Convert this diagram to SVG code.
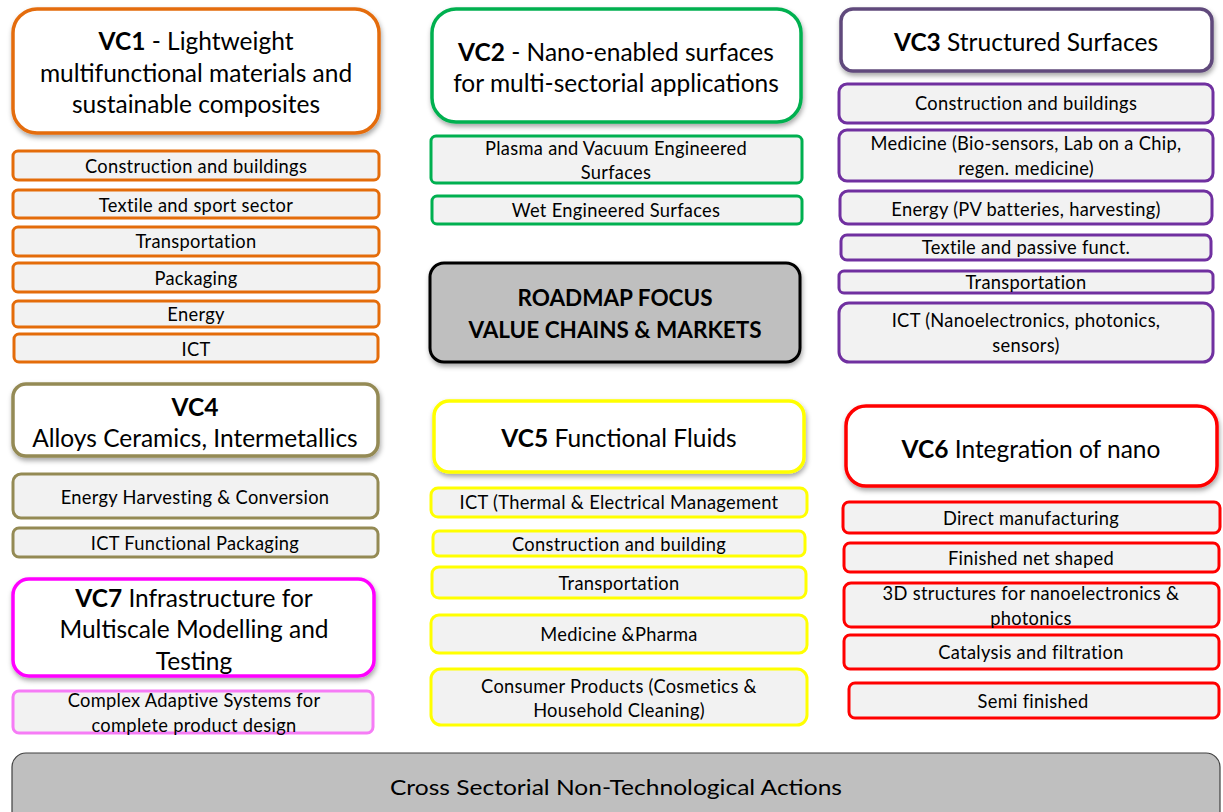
<svg xmlns="http://www.w3.org/2000/svg" width="1223" height="812" viewBox="0 0 1223 812">
<defs>
<filter id="sh" x="-10%" y="-10%" width="120%" height="130%">
<feDropShadow dx="1" dy="3" stdDeviation="2.5" flood-color="#000" flood-opacity="0.35"/>
</filter>
<style>
text{font-family:Lato,"Open Sans","Liberation Sans",sans-serif;fill:#000;text-anchor:middle;dominant-baseline:central}
.h{font-size:24.5px}
.bold{font-weight:bold}
.i{font-size:18.3px;letter-spacing:0.3px}
.hd{fill:#fff;stroke-width:3.5}
.it{fill:#F2F2F2;stroke-width:3}
.o{stroke:#E46C0A}.g{stroke:#00B050}.p3{stroke:#604A7B}.p{stroke:#7030A0}
.ol{stroke:#948A54}.m{stroke:#FF00FF}.lm{stroke:#F67CF6}.y{stroke:#FFFF00}.r{stroke:#FF0000}
</style>
</defs>
<rect width="1223" height="812" fill="#fff"/>
<g id="connectors"/>

<g id="vc1">
<rect class="hd o" x="13" y="9" width="366" height="124" rx="24" filter="url(#sh)"/>
<text class="h" x="196" y="40"><tspan font-weight="bold">VC1</tspan> - Lightweight</text>
<text class="h" x="196" y="72">multifunctional materials and</text>
<text class="h" x="196" y="103">sustainable composites</text>
</g>
<g id="vc1-items">
<rect class="it o" x="13" y="151" width="366" height="29" rx="5"/><text class="i" x="196" y="166">Construction and buildings</text>
<rect class="it o" x="13" y="190" width="366" height="28" rx="5"/><text class="i" x="196" y="205">Textile and sport sector</text>
<rect class="it o" x="13" y="227" width="366" height="29" rx="5"/><text class="i" x="196" y="241">Transportation</text>
<rect class="it o" x="13" y="263" width="366" height="29" rx="5"/><text class="i" x="196" y="278">Packaging</text>
<rect class="it o" x="13" y="301" width="366" height="26" rx="5"/><text class="i" x="196" y="314">Energy</text>
<rect class="it o" x="14" y="334" width="364" height="28" rx="5"/><text class="i" x="196" y="349">ICT</text>
</g>

<g id="vc2">
<rect class="hd g" x="432" y="9" width="369" height="113" rx="24" filter="url(#sh)"/>
<text class="h" x="616" y="51"><tspan font-weight="bold">VC2</tspan> - Nano-enabled surfaces</text>
<text class="h" x="616" y="82">for multi-sectorial applications</text>
</g>
<g id="vc2-items">
<rect class="it g" x="431" y="136" width="371" height="47" rx="5"/><text class="i" x="616" y="148">Plasma and Vacuum Engineered</text><text class="i" x="616" y="172">Surfaces</text>
<rect class="it g" x="432" y="196" width="370" height="28" rx="5"/><text class="i" x="616" y="210">Wet Engineered Surfaces</text>
</g>

<g id="vc3">
<rect class="hd p3" x="841" y="9" width="371" height="62" rx="12" filter="url(#sh)"/>
<text class="h" x="1026" y="41"><tspan font-weight="bold">VC3</tspan>  Structured Surfaces</text>
</g>
<g id="vc3-items">
<rect class="it p" x="839" y="84" width="374" height="39" rx="8"/><text class="i" x="1026" y="103">Construction and buildings</text>
<rect class="it p" x="839" y="130" width="374" height="51" rx="8"/><text class="i" x="1026" y="143">Medicine (Bio-sensors, Lab on a Chip,</text><text class="i" x="1026" y="168">regen. medicine)</text>
<rect class="it p" x="840" y="191" width="372" height="33" rx="8"/><text class="i" x="1026" y="209">Energy (PV batteries, harvesting)</text>
<rect class="it p" x="841" y="235" width="370" height="25" rx="6"/><text class="i" x="1026" y="247">Textile and passive funct.</text>
<rect class="it p" x="839" y="271" width="374" height="22" rx="5"/><text class="i" x="1026" y="282">Transportation</text>
<rect class="it p" x="839" y="303" width="374" height="59" rx="10"/><text class="i" x="1026" y="320">ICT (Nanoelectronics, photonics,</text><text class="i" x="1026" y="345">sensors)</text>
</g>

<g id="roadmap">
<rect x="430" y="263" width="370" height="99" rx="14" fill="#BFBFBF" stroke="#000" stroke-width="3" filter="url(#sh)"/>
<text class="bold" x="615" y="297" font-size="22.5">ROADMAP FOCUS</text>
<text class="bold" x="615" y="329" font-size="22.5">VALUE CHAINS &amp; MARKETS</text>
</g>

<g id="vc4">
<rect class="hd ol" x="13" y="384" width="365" height="72" rx="13" filter="url(#sh)"/>
<text class="h" x="195" y="406" font-weight="bold">VC4</text>
<text class="h" x="195" y="437">Alloys Ceramics, Intermetallics</text>
</g>
<g id="vc4-items">
<rect class="it ol" x="13" y="474" width="365" height="44" rx="8"/><text class="i" x="195" y="497">Energy Harvesting &amp; Conversion</text>
<rect class="it ol" x="13" y="528" width="365" height="29" rx="6"/><text class="i" x="195" y="543">ICT Functional Packaging</text>
</g>

<g id="vc7">
<rect class="hd m" x="13" y="579" width="361" height="97" rx="16" filter="url(#sh)"/>
<text class="h" x="194" y="597"><tspan font-weight="bold">VC7</tspan> Infrastructure for</text>
<text class="h" x="194" y="628">Multiscale Modelling and</text>
<text class="h" x="194" y="660">Testing</text>
</g>
<g id="vc7-items">
<rect class="it lm" x="13" y="691" width="360" height="42" rx="6"/><text class="i" x="194" y="700">Complex Adaptive Systems for</text><text class="i" x="194" y="725">complete product design</text>
</g>

<g id="vc5">
<rect class="hd y" x="434" y="401" width="370" height="71" rx="15" filter="url(#sh)"/>
<text class="h" x="619" y="437"><tspan font-weight="bold">VC5</tspan> Functional Fluids</text>
</g>
<g id="vc5-items">
<rect class="it y" x="431" y="488" width="376" height="29" rx="7"/><text class="i" x="619" y="502">ICT (Thermal &amp; Electrical Management</text>
<rect class="it y" x="433" y="531" width="372" height="25" rx="6"/><text class="i" x="619" y="544">Construction and building</text>
<rect class="it y" x="432" y="567" width="374" height="31" rx="7"/><text class="i" x="619" y="583">Transportation</text>
<rect class="it y" x="431" y="615" width="376" height="38" rx="8"/><text class="i" x="619" y="634">Medicine &amp;Pharma</text>
<rect class="it y" x="431" y="669" width="376" height="56" rx="10"/><text class="i" x="619" y="686">Consumer Products (Cosmetics &amp;</text><text class="i" x="619" y="710">Household Cleaning)</text>
</g>

<g id="vc6">
<rect class="hd r" x="846" y="406" width="371" height="80" rx="20" filter="url(#sh)"/>
<text class="h" x="1031" y="448"><tspan font-weight="bold">VC6</tspan> Integration of nano</text>
</g>
<g id="vc6-items">
<rect class="it r" x="843" y="502" width="377" height="31" rx="6"/><text class="i" x="1031" y="518">Direct manufacturing</text>
<rect class="it r" x="844" y="543" width="375" height="29" rx="6"/><text class="i" x="1031" y="558">Finished net shaped</text>
<rect class="it r" x="844" y="583" width="375" height="44" rx="7"/><text class="i" x="1031" y="593">3D structures for nanoelectronics &amp;</text><text class="i" x="1031" y="618">photonics</text>
<rect class="it r" x="844" y="635" width="375" height="34" rx="6"/><text class="i" x="1031" y="652">Catalysis and filtration</text>
<rect class="it r" x="849" y="683" width="370" height="35" rx="6"/><text class="i" x="1033" y="701">Semi finished</text>
</g>

<g id="cross">
<rect x="12" y="753" width="1208" height="80" rx="14" fill="#BFBFBF" stroke="#404040" stroke-width="1.2"/>
<text x="616" y="786" font-size="21" textLength="452" lengthAdjust="spacingAndGlyphs">Cross Sectorial Non-Technological Actions</text>
</g>
</svg>
